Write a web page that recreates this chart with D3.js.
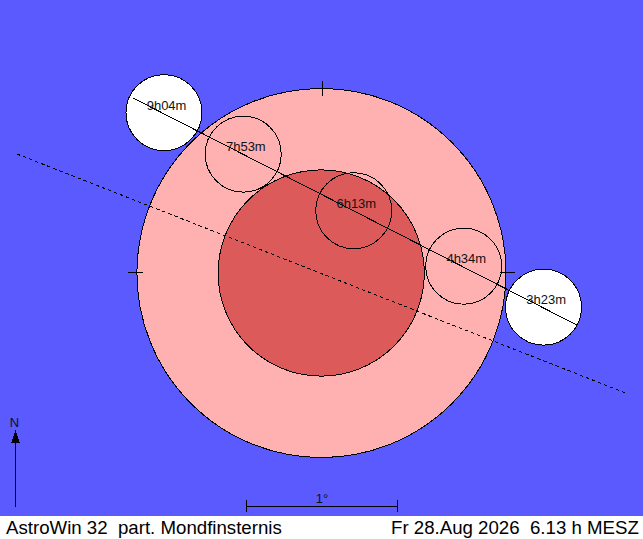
<!DOCTYPE html>
<html><head><meta charset="utf-8">
<script src="https://d3js.org/d3.v7.min.js"></script>
<style>html,body{margin:0;padding:0;background:#fff}svg{display:block}text{font-family:"Liberation Sans",Arial,sans-serif}
circle,line,path{shape-rendering:crispEdges}</style>
</head><body><svg id="c" width="643" height="539"></svg>
<script>
const moonLabels=["9h04m","7h53m","6h13m","4h34m","3h23m"];
const moonEast=[-1.04,-0.515,0.2166,0.945,1.474];
const moonNorth=[1.062,0.787,0.4126,0.045,-0.226];
const moonInShadow=[false,true,true,true,false];
const moonRadiusDeg=0.2517;
const penumbraEast=0.003;
const penumbraRadiusDeg=1.222;
const umbraEast=0.0013;
const umbraRadiusDeg=0.683;
const moonPathEast=[-1.245,1.693];
const moonPathNorth=[1.159,-0.344];
const eclipticEast=[-2.013,2.013];
const eclipticNorth=[0.788,-0.793];
const footerLeft="AstroWin 32  part. Mondfinsternis";
const footerRight="Fr 28.Aug 2026  6.13 h MESZ";
const scaleLabel="1°";
const northLabel="N";

const W=643,H=539,PX=151,cx=321,cy=273;
const x=d3.scaleLinear().domain([-cx/PX,(W-cx)/PX]).range([0,W]);
const y=d3.scaleLinear().domain([cy/PX,(cy-H)/PX]).range([0,H]);
const r=d=>d*PX;
const svg=d3.select("#c");
const ink="#000";
svg.append("rect").attr("width",W).attr("height",516).attr("fill","#5a5aff");

const circle=(e,n,rad,fill)=>svg.append("circle").attr("cx",x(e)).attr("cy",y(n)).attr("r",r(rad))
  .attr("fill",fill).attr("stroke",ink).attr("stroke-width",1);
moonEast.forEach((e,i)=>{if(!moonInShadow[i])circle(e,moonNorth[i],moonRadiusDeg,"#fff");});
circle(penumbraEast,0,penumbraRadiusDeg,"#ffb0b0");
circle(umbraEast,0,umbraRadiusDeg,"#dd5a5a");
moonEast.forEach((e,i)=>{if(moonInShadow[i])circle(e,moonNorth[i],moonRadiusDeg,"none");});

const line=d3.line().x(d=>x(d[0])).y(d=>y(d[1]));
svg.append("path").attr("d",line(d3.zip(eclipticEast,eclipticNorth))).attr("fill","none").attr("stroke",ink).attr("stroke-dasharray","3.5 3");
svg.append("path").attr("d",line(d3.zip(moonPathEast,moonPathNorth))).attr("fill","none").attr("stroke",ink);

const seg=(a,b,c,d)=>svg.append("line").attr("x1",a).attr("y1",b).attr("x2",c).attr("y2",d).attr("stroke",ink);
// cross ticks on the penumbra
seg(322.5,81,322.5,96);seg(128,272.5,143,272.5);seg(500,272.5,515,272.5);
// north arrow
seg(15.5,432,15.5,507);
svg.append("path").attr("d","M15.5 430L20 443L11 443Z").attr("fill",ink);
svg.append("text").attr("x",14.5).attr("y",427).attr("text-anchor","middle").attr("font-size",13).attr("fill","#111").text(northLabel);
// scale bar: one degree
const bar0=x(-0.4923),bar1=bar0+PX;
seg(bar0,506.5,bar1,506.5);seg(bar0,500,bar0,512);seg(bar1,500,bar1,512);
svg.append("text").attr("x",322).attr("y",503).attr("text-anchor","middle").attr("font-size",13).attr("fill","#111").text(scaleLabel);

moonLabels.forEach((t,i)=>svg.append("text").attr("x",x(moonEast[i])+2.6).attr("y",y(moonNorth[i])-3)
  .attr("text-anchor","middle").attr("font-size",13).attr("fill","#111").text(t));

svg.append("text").attr("x",6).attr("y",534).attr("font-size",18.67).attr("xml:space","preserve").style("white-space","pre").text(footerLeft);
svg.append("text").attr("x",391).attr("y",534).attr("font-size",18.67).attr("xml:space","preserve").style("white-space","pre").text(footerRight);
</script></body></html>
